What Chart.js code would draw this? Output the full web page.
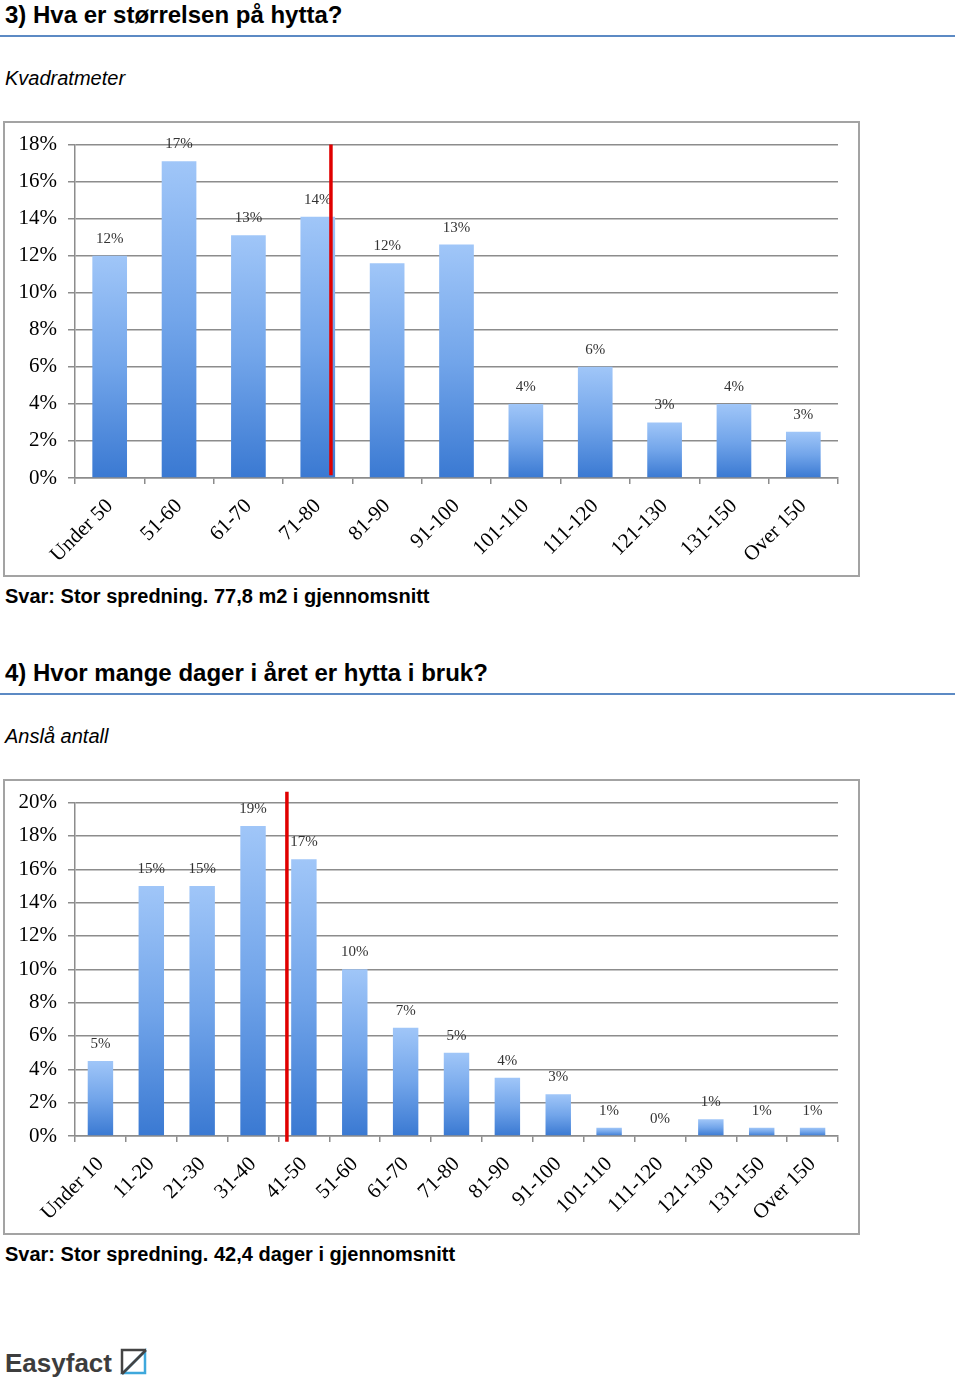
<!DOCTYPE html>
<html>
<head>
<meta charset="utf-8">
<script src="https://cdn.jsdelivr.net/npm/chart.js@4/dist/chart.umd.min.js"></script>
<style>
  body { margin: 0; width: 960px; height: 1381px; background: #fff; position: relative; font-family: "Liberation Sans", Arial, sans-serif; }
  .abs { position: absolute; white-space: nowrap; }
  .heading { font-weight: bold; font-size: 24px; line-height: 24px; color: #000; left: 5px; }
  .rule { left: 0; width: 955px; height: 2px; background: #5c8ac4; }
  .sub { font-style: italic; font-size: 20px; line-height: 20px; color: #000; left: 5px; }
  .box { left: 3px; width: 857px; height: 456px; box-sizing: border-box; border: 2px solid #a3a3a3; }
  .answer { font-weight: bold; font-size: 20px; line-height: 20px; color: #000; left: 5px; }
  canvas.chart { position: absolute; left: 3px; }
</style>
</head>
<body>

<div class="abs heading" style="top:3px">3) Hva er størrelsen på hytta?</div>
<div class="abs rule" style="top:35px"></div>
<div class="abs sub" style="top:68px">Kvadratmeter</div>
<div class="abs box" style="top:121px"></div>
<canvas id="sizeChart" class="chart" width="857" height="456" style="top:121px"></canvas>
<div class="abs answer" style="top:586px">Svar: Stor spredning. 77,8 m2 i gjennomsnitt</div>

<div class="abs heading" style="top:661px">4) Hvor mange dager i året er hytta i bruk?</div>
<div class="abs rule" style="top:693px"></div>
<div class="abs sub" style="top:726px">Anslå antall</div>
<div class="abs box" style="top:779px"></div>
<canvas id="daysChart" class="chart" width="857" height="456" style="top:779px"></canvas>
<div class="abs answer" style="top:1244px">Svar: Stor spredning. 42,4 dager i gjennomsnitt</div>

<div class="abs" style="left:5px; top:1350px; font-weight:bold; font-size:26px; line-height:26px; color:#3d3d3d;">Easyfact</div>
<svg class="abs" style="left:120px; top:1348px" width="28" height="28" viewBox="0 0 28 28">
  <polygon points="25,3 25,25 3,25" fill="none" stroke="#3ea8dc" stroke-width="2.5"/>
  <path d="M2,26 L2,2 L26,2" fill="none" stroke="#444" stroke-width="2.5"/>
  <line x1="2" y1="26" x2="26" y2="2" stroke="#444" stroke-width="2.5"/>
</svg>

<script>
// 3) Hytta størrelse (kvadratmeter)
const sizeLabels = ['Under 50', '51-60', '61-70', '71-80', '81-90', '91-100',
                    '101-110', '111-120', '121-130', '131-150', 'Over 150'];
const sizeValues = [12, 17.1, 13.1, 14.1, 11.6, 12.6, 4, 6, 3, 4, 2.5];
const sizeTicks = { max: 18, step: 2 };
const sizeMean = { at: 3.19, from: 0.15, to: 18 };   // 77,8 m2, i kategori-enheter

// 4) Dager i bruk
const daysLabels = ['Under 10', '11-20', '21-30', '31-40', '41-50', '51-60', '61-70',
                    '71-80', '81-90', '91-100', '101-110', '111-120', '121-130',
                    '131-150', 'Over 150'];
const daysValues = [4.5, 15, 15, 18.6, 16.6, 10, 6.5, 5, 3.5, 2.5, 0.5, 0, 1, 0.5, 0.5];
const daysTicks = { max: 20, step: 2 };
const daysMean = { at: 3.666, from: -0.35, to: 20.65 }; // 42,4 dager

const gridGray = '#8c8c8c';

// gradient per søyle: lys topp, mørkere bunn
function barGradient(c) {
    const chart = c.chart;
    if (!chart.chartArea || c.type !== 'data') return '#6a9fe6';
    const y = chart.scales.y;
    const top = y.getPixelForValue(c.raw);
    const base = y.getPixelForValue(0);
    if (!(base > top)) return '#6a9fe6';
    const g = chart.ctx.createLinearGradient(0, top, 0, base);
    g.addColorStop(0, '#a0c6f8');
    g.addColorStop(0.5, '#72a5ea');
    g.addColorStop(1, '#3a79d2');
    return g;
}

// prosent over hver søyle
const valueLabels = {
    id: 'valueLabels',
    afterDatasetsDraw(chart) {
        const ctx = chart.ctx;
        const meta = chart.getDatasetMeta(0);
        const data = chart.data.datasets[0].data;
        ctx.save();
        ctx.font = '15px "Liberation Serif", serif';
        ctx.fillStyle = '#333';
        ctx.textAlign = 'center';
        ctx.textBaseline = 'middle';
        meta.data.forEach(function(bar, i) {
            ctx.fillText(Math.round(data[i]) + '%', bar.x, bar.y - 17);
        });
        ctx.restore();
    }
};

// rød strek for gjennomsnitt
const meanLine = {
    id: 'meanLine',
    afterDatasetsDraw(chart, args, opts) {
        const x = chart.scales.x.getPixelForValue(opts.at);
        const y1 = chart.scales.y.getPixelForValue(opts.to);
        const y2 = chart.scales.y.getPixelForValue(opts.from);
        const ctx = chart.ctx;
        ctx.save();
        ctx.strokeStyle = '#e00000';
        ctx.lineWidth = 3.5;
        ctx.beginPath();
        ctx.moveTo(x, y1);
        ctx.lineTo(x, y2);
        ctx.stroke();
        ctx.restore();
    }
};

function makeChart(id, labels, values, ticks, mean) {
    const ctx = document.getElementById(id).getContext('2d');
    return new Chart(ctx, {
        type: 'bar',
        data: {
            labels: labels,
            datasets: [{
                data: values,
                backgroundColor: barGradient,
                borderWidth: 0,
                categoryPercentage: 1,
                barPercentage: 0.5
            }]
        },
        options: {
            responsive: false,
            animation: false,
            layout: { padding: { left: 0, top: 22, right: 22, bottom: 0 } },
            plugins: {
                legend: { display: false },
                tooltip: { enabled: false },
                meanLine: mean
            },
            scales: {
                x: {
                    afterFit: function(s) { s.height = 99; },
                    grid: { drawOnChartArea: false, drawTicks: true, tickLength: 6, color: gridGray, lineWidth: 1.5 },
                    border: { color: gridGray, width: 1.5 },
                    ticks: {
                        minRotation: 45, maxRotation: 45, autoSkip: false, padding: 10,
                        color: '#000',
                        font: { family: '"Liberation Serif", serif', size: 21 }
                    }
                },
                y: {
                    min: 0,
                    max: ticks.max,
                    afterFit: function(s) { s.width = 72; },
                    grid: { color: gridGray, lineWidth: 1.5, tickLength: 7 },
                    border: { color: gridGray, width: 1.5 },
                    ticks: {
                        stepSize: ticks.step,
                        padding: 11,
                        color: '#000',
                        font: { family: '"Liberation Serif", serif', size: 21 },
                        callback: function(v) { return v + '%'; }
                    }
                }
            }
        },
        plugins: [valueLabels, meanLine]
    });
}

document.addEventListener('DOMContentLoaded', function() {
    makeChart('sizeChart', sizeLabels, sizeValues, sizeTicks, sizeMean);
    makeChart('daysChart', daysLabels, daysValues, daysTicks, daysMean);
});
</script>
</body>
</html>
